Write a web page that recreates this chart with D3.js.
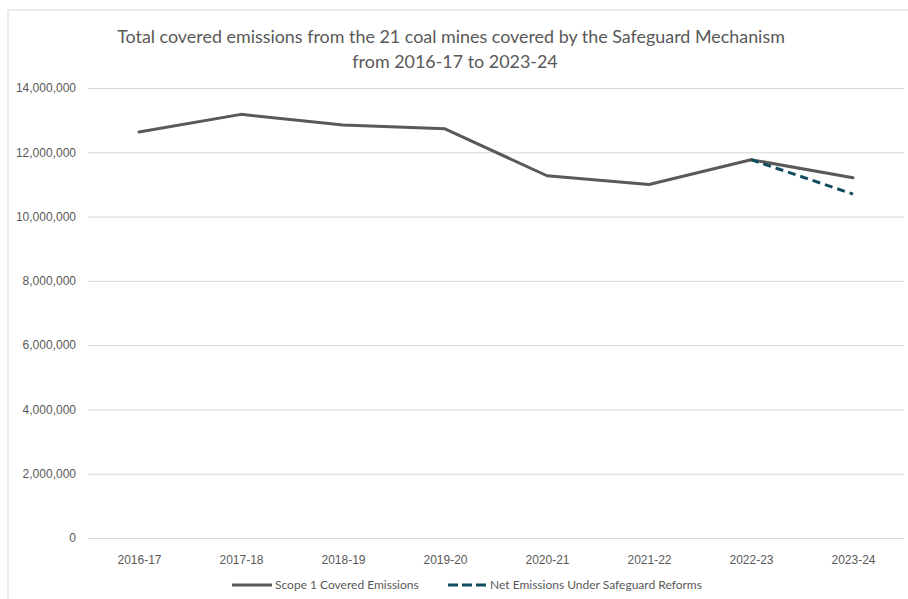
<!DOCTYPE html>
<html>
<head>
<meta charset="utf-8">
<script src="https://cdn.jsdelivr.net/npm/d3@7"></script>
<style>
  body { margin: 0; background: #fff; }
  svg { display: block; font-family: Lato, "DejaVu Sans Condensed", sans-serif; }
</style>
</head>
<body>
<svg id="chart" width="908" height="599"></svg>
<script>
// categories and series
const years = ["2016-17", "2017-18", "2018-19", "2019-20", "2020-21", "2021-22", "2022-23", "2023-24"];
const scope1 = [12630000, 13180000, 12850000, 12730000, 11270000, 11000000, 11770000, 11210000];
// net emissions only exist for the last two years
const netYears = ["2022-23", "2023-24"];
const netValues = [11770000, 10700000];
const yTicks = [0, 2000000, 4000000, 6000000, 8000000, 10000000, 12000000, 14000000];

const svg = d3.select("#chart");
const grey = "#595959";
const teal = "#0f4d5f";

// chart frame (only left and top edges show in the crop)
svg.append("line").attr("x1", 8).attr("x2", 8).attr("y1", 10).attr("y2", 599)
    .attr("stroke", "#d9d9d9");
svg.append("line").attr("x1", 8).attr("x2", 908).attr("y1", 10).attr("y2", 10)
    .attr("stroke", "#d9d9d9");

// title
svg.append("text").attr("x", 451).attr("y", 43).attr("text-anchor", "middle")
    .attr("font-size", 17.9).attr("fill", grey)
    .text("Total covered emissions from the 21 coal mines covered by the Safeguard Mechanism");
svg.append("text").attr("x", 455).attr("y", 68).attr("text-anchor", "middle")
    .attr("font-size", 17.9).attr("fill", grey)
    .text("from 2016-17 to 2023-24");

const x = d3.scalePoint().domain(years).range([88, 904]).padding(0.5);
const y = d3.scaleLinear().domain([0, 14000000]).range([538, 88]);

// gridlines + y labels
const yAxis = svg.append("g").attr("transform", "translate(88,0)")
    .call(d3.axisLeft(y).tickValues(yTicks).tickSize(-816).tickPadding(12)
        .tickFormat(d3.format(",")));
yAxis.select(".domain").remove();
yAxis.selectAll("line").attr("stroke", "#d9d9d9");
yAxis.selectAll("text").attr("fill", grey).attr("font-size", 12).attr("font-family", null);

// x labels
const xAxis = svg.append("g").attr("transform", "translate(0,538)")
    .call(d3.axisBottom(x).tickSize(0).tickPadding(17));
xAxis.select(".domain").remove();
xAxis.selectAll("text").attr("fill", grey).attr("font-size", 12).attr("font-family", null);

// lines
const line = d3.line().x(d => x(d[0])).y(d => y(d[1]));

svg.append("path")
    .datum(years.map((yr, i) => [yr, scope1[i]]))
    .attr("d", line)
    .attr("fill", "none")
    .attr("stroke", grey)
    .attr("stroke-width", 3)
    .attr("stroke-linejoin", "round")
    .attr("stroke-linecap", "round");

svg.append("path")
    .datum(netYears.map((yr, i) => [yr, netValues[i]]))
    .attr("d", line)
    .attr("fill", "none")
    .attr("stroke", teal)
    .attr("stroke-width", 3)
    .attr("stroke-dasharray", "8,5");

// legend
const legend = svg.append("g").attr("transform", "translate(0,585)");
legend.append("line").attr("x1", 232).attr("x2", 272).attr("y1", 0).attr("y2", 0)
    .attr("stroke", grey).attr("stroke-width", 3);
legend.append("text").attr("x", 275).attr("y", 4.2).attr("font-size", 12).attr("fill", grey)
    .text("Scope 1 Covered Emissions");
legend.append("line").attr("x1", 448).attr("x2", 486).attr("y1", 0).attr("y2", 0)
    .attr("stroke", teal).attr("stroke-width", 3).attr("stroke-dasharray", "10,4");
legend.append("text").attr("x", 490).attr("y", 4.2).attr("font-size", 12).attr("fill", grey)
    .text("Net Emissions Under Safeguard Reforms");
</script>
</body>
</html>
